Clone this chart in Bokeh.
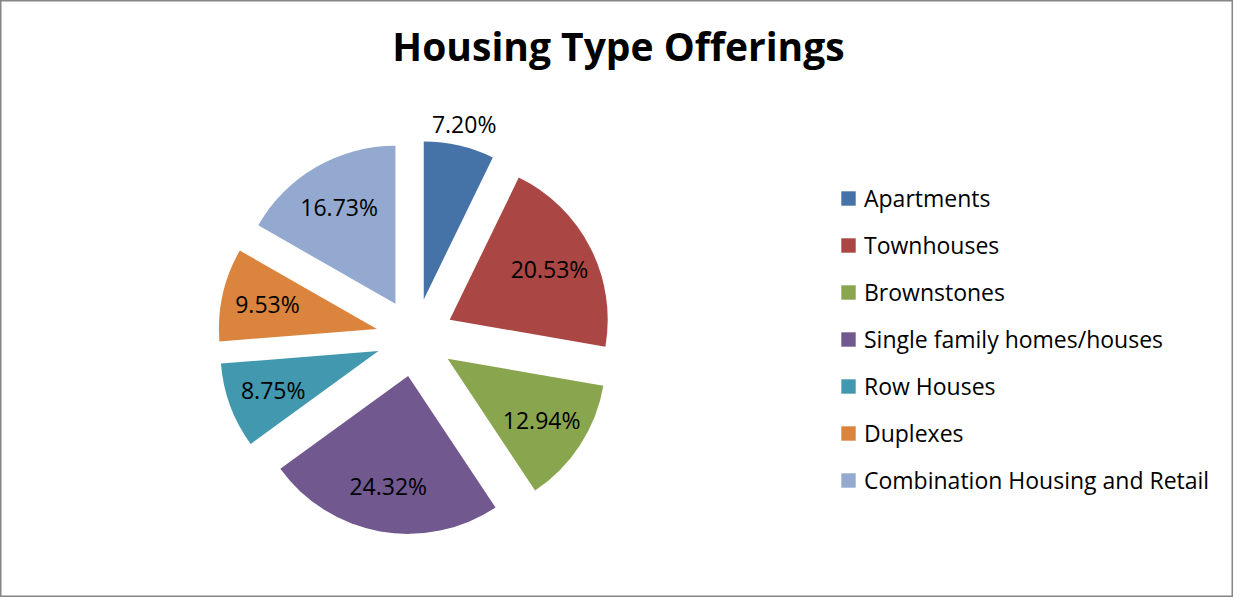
import math
from bokeh.plotting import figure
from bokeh.models import ColumnDataSource, Legend, LegendItem, Range1d
from bokeh.core.properties import value
from bokeh.embed import file_html
from bokeh.resources import INLINE

categories = ["Apartments", "Townhouses", "Brownstones", "Single family homes/houses",
              "Row Houses", "Duplexes", "Combination Housing and Retail"]
shares = [7.20, 20.53, 12.94, 24.32, 8.75, 9.53, 16.73]
labels = ["7.20%", "20.53%", "12.94%", "24.32%", "8.75%", "9.53%", "16.73%"]
colors = ["#4572A7", "#AA4643", "#89A54E", "#71588F", "#4198AF", "#DB843D", "#93A9CF"]

W, H = 1233, 597
CX, CY = 414.5, 260    # pie centre (pixels, y up)
R = 158                # radius
EXPLODE = 39           # explosion distance

total = sum(shares)
xs, ys, starts, ends, lx, ly = [], [], [], [], [], []
cum = 0.0
for v in shares:
    t0 = cum / total * 2 * math.pi
    t1 = (cum + v) / total * 2 * math.pi
    tm = (t0 + t1) / 2
    cum += v
    ox = CX + EXPLODE * math.sin(tm)
    oy = CY + EXPLODE * math.cos(tm)
    xs.append(ox)
    ys.append(oy)
    starts.append(math.pi / 2 - t0)
    ends.append(math.pi / 2 - t1)
    rl = 1.14 * R if v < 8 else 0.71 * R
    lx.append(ox + rl * math.sin(tm))
    ly.append(oy + rl * math.cos(tm))

src = ColumnDataSource(dict(x=xs, y=ys, start=starts, end=ends, color=colors,
                            cat=categories))
lsrc = ColumnDataSource(dict(x=lx, y=ly, text=labels))

p = figure(width=W, height=H, output_backend="svg", toolbar_location=None,
           x_range=Range1d(0, W), y_range=Range1d(0, H), min_border=0,
           tools="")
p.axis.visible = False
p.grid.visible = False
p.outline_line_color = "#868686"
p.outline_line_width = 2
p.background_fill_color = "white"
p.border_fill_color = "white"

r = p.wedge(x="x", y="y", radius=R, start_angle="start", end_angle="end",
            direction="clock", fill_color="color", line_color=None, source=src)

p.text(x="x", y="y", text="text", source=lsrc, text_align="center",
       text_baseline="middle", text_font=value("Open Sans"),
       text_font_size="23px", text_color="black")

p.text(x=[618], y=[H - 45], text=["Housing Type Offerings"], text_align="center",
       text_baseline="alphabetic", text_font=value("Open Sans"),
       text_font_size="39px", text_font_style="bold", text_color="black")

items = [LegendItem(label=c, renderers=[r], index=i) for i, c in enumerate(categories)]
legend = Legend(items=items, location=(839, 101), orientation="vertical",
                glyph_width=18, glyph_height=18, label_standoff=7,
                label_height=30, spacing=15, padding=0, margin=0,
                border_line_color=None, background_fill_alpha=0,
                label_text_font="Open Sans", label_text_font_size="23px",
                label_text_color="black")
p.add_layout(legend, "center")

open("out.html", "w").write(file_html(p, INLINE))
